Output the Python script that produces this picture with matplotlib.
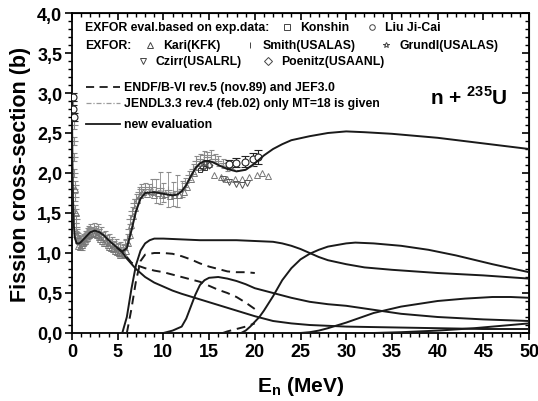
import numpy as np
import matplotlib
matplotlib.use("Agg")
import matplotlib.pyplot as plt
from matplotlib.ticker import MultipleLocator, FuncFormatter

plt.rcParams['font.family'] = ['Liberation Sans', 'DejaVu Sans']
plt.rcParams['font.weight'] = 'bold'
plt.rcParams['mathtext.fontset'] = 'custom'
plt.rcParams['mathtext.rm'] = 'Liberation Sans:bold'
plt.rcParams['mathtext.bf'] = 'Liberation Sans:bold'

# --- new evaluation: total fission cross-section
tot_E = [0.01, 0.05, 0.1, 0.2, 0.3, 0.5, 0.8, 1.0, 1.5, 2.0, 2.5, 3.0, 3.5, 4.0, 4.5, 5.0, 5.5,
         6.0, 6.5, 7.0, 7.5, 8.0, 9.0, 10.0, 11.0, 11.5, 12.0, 12.5, 13.0, 13.5, 14.0, 14.5,
         15.0, 15.5, 16.0, 17.0, 18.0, 19.0, 20.0, 21.0, 22.0, 23.0, 24.0, 26.0, 28.0, 30.0,
         32.0, 35.0, 38.0, 40.0, 45.0, 50.0]
tot_s = [2.6, 2.1, 1.7, 1.35, 1.2, 1.12, 1.12, 1.14, 1.2, 1.26, 1.28, 1.26, 1.22, 1.16, 1.11, 1.06, 1.02,
         1.06, 1.28, 1.52, 1.68, 1.75, 1.76, 1.74, 1.72, 1.73, 1.77, 1.85, 1.96, 2.06, 2.12, 2.15,
         2.15, 2.13, 2.10, 2.05, 2.02, 2.04, 2.12, 2.22, 2.30, 2.36, 2.41, 2.46, 2.50, 2.52,
         2.51, 2.49, 2.46, 2.44, 2.37, 2.30]

# --- new evaluation: partial (multi-chance) fission
ch1_E = [5.0, 5.5, 6.0, 7.0, 8.0, 9.0, 10.0, 11.0, 12.0, 14.0, 16.0, 18.0, 20.0, 22.0, 24.0,
         26.0, 28.0, 30.0, 35.0, 40.0, 45.0, 50.0]
ch1_s = [1.06, 1.01, 0.93, 0.80, 0.70, 0.63, 0.58, 0.53, 0.49, 0.42, 0.35, 0.28, 0.21, 0.15, 0.12,
         0.10, 0.09, 0.08, 0.07, 0.06, 0.05, 0.05]
ch2_E = [5.5, 6.0, 6.5, 7.0, 7.5, 8.0, 8.5, 9.0, 10, 12, 14, 16, 18, 20, 22, 23, 24, 25, 26, 27,
         28, 30, 32, 35, 40, 45, 50]
ch2_s = [0.0, 0.2, 0.55, 0.85, 1.03, 1.12, 1.16, 1.18, 1.18, 1.17, 1.16, 1.16, 1.16, 1.15, 1.14,
         1.12, 1.09, 1.05, 1.0, 0.95, 0.91, 0.86, 0.82, 0.79, 0.75, 0.72, 0.68]
ch3_E = [10, 11, 12, 12.5, 13, 13.5, 14, 14.5, 15, 16, 17, 18, 19, 20, 22, 24, 26, 28, 30, 33,
         36, 40, 45, 50]
ch3_s = [0.0, 0.03, 0.08, 0.18, 0.33, 0.48, 0.60, 0.66, 0.69, 0.70, 0.68, 0.65, 0.61, 0.56, 0.50,
         0.44, 0.39, 0.36, 0.34, 0.29, 0.24, 0.20, 0.17, 0.15]
ch4_E = [18.5, 19, 19.5, 20, 20.5, 21, 22, 23, 24, 25, 26, 27, 28, 30, 31, 33, 36, 39, 42, 46, 50]
ch4_s = [0.0, 0.03, 0.08, 0.14, 0.20, 0.28, 0.46, 0.66, 0.81, 0.92, 0.99, 1.04, 1.08, 1.12, 1.13,
         1.12, 1.09, 1.04, 0.97, 0.86, 0.76]
ch5_E = [25, 26, 27, 28, 30, 33, 36, 40, 43, 46, 48, 50]
ch5_s = [0.0, 0.01, 0.03, 0.06, 0.13, 0.25, 0.33, 0.40, 0.43, 0.45, 0.45, 0.44]
ch6_E = [33, 36, 40, 44, 47, 50]
ch6_s = [0.0, 0.01, 0.03, 0.06, 0.09, 0.12]

# --- ENDF/B-VI partial fission (dashed)
endf1_E = [6.0, 6.5, 7, 8, 9, 10, 11, 12, 13, 14, 15, 16, 17, 18, 19, 20]
endf1_s = [0.95, 0.88, 0.85, 0.81, 0.78, 0.76, 0.73, 0.70, 0.67, 0.64, 0.59, 0.54, 0.50, 0.45, 0.38, 0.30]
endf2_E = [6.0, 6.5, 7.0, 7.5, 8.0, 9, 10, 11, 12, 13, 14, 15, 16, 17, 18, 19, 20]
endf2_s = [0.0, 0.3, 0.65, 0.9, 0.98, 1.0, 1.0, 0.99, 0.96, 0.92, 0.87, 0.83, 0.80, 0.77, 0.76, 0.76, 0.75]
endf3_E = [16.5, 17, 18, 19, 20]
endf3_s = [0.0, 0.02, 0.05, 0.08, 0.12]

# --- JENDL-3.3 total (gray dash-dot)
jendl_E = [0.05, 0.1, 0.3, 0.5, 1, 1.5, 2, 2.5, 3, 4, 5, 5.5, 6, 6.5, 7, 7.5, 8, 9, 10, 11, 12,
           12.5, 13, 13.5, 14, 15, 16, 17, 18, 19, 20]
jendl_s = [2.2, 1.8, 1.25, 1.15, 1.16, 1.22, 1.28, 1.30, 1.28, 1.18, 1.08, 1.04, 1.08, 1.30, 1.55,
           1.70, 1.78, 1.79, 1.77, 1.75, 1.78, 1.86, 1.97, 2.07, 2.13, 2.16, 2.12, 2.07, 2.03, 2.04, 2.10]

# --- EXFOR experimental data
smith_E = [0.15, 0.18, 0.2, 0.22, 0.25, 0.28, 0.3, 0.35, 0.4, 0.45, 0.5, 0.6, 0.7, 0.8, 0.9, 1.0,
           1.1, 1.2, 1.3, 1.4, 1.5, 1.6, 1.7, 1.8, 1.9, 2.0, 2.2, 2.4, 2.6, 2.8, 3.0, 3.2, 3.4, 3.6,
           3.8, 4.0, 4.2, 4.4, 4.6, 4.8, 5.0, 5.2, 5.4, 5.6, 5.8, 6.0, 6.2, 6.4, 6.6, 6.8, 7.0, 7.3,
           7.6, 8.0, 8.4, 8.8, 9.2, 9.6, 10.0, 10.5, 11.0, 11.5, 12.0, 12.4, 12.8, 13.2, 13.6, 14.0,
           14.4, 14.8, 15.2, 15.6, 16.0, 16.5, 17.0]
smith_s = [2.9, 2.6, 2.4, 2.2, 2.0, 1.85, 1.7, 1.55, 1.42, 1.32, 1.25, 1.2, 1.17, 1.13, 1.12, 1.15,
           1.10, 1.18, 1.16, 1.22, 1.20, 1.25, 1.23, 1.28, 1.26, 1.30, 1.27, 1.31, 1.28, 1.30, 1.24,
           1.26, 1.20, 1.22, 1.16, 1.18, 1.12, 1.14, 1.09, 1.11, 1.06, 1.08, 1.02, 1.05, 1.10, 1.18,
           1.30, 1.42, 1.52, 1.62, 1.68, 1.76, 1.80, 1.82, 1.80, 1.83, 1.78, 1.81, 1.76, 1.79, 1.74,
           1.77, 1.80, 1.88, 1.97, 2.05, 2.15, 2.18, 2.22, 2.20, 2.23, 2.18, 2.15, 2.12, 2.08]
smith_err = [0.05, 0.05, 0.05, 0.05, 0.05, 0.05, 0.05, 0.05, 0.05, 0.05, 0.05, 0.06, 0.06, 0.06,
             0.06, 0.06, 0.06, 0.06, 0.06, 0.06, 0.06, 0.06, 0.06, 0.06, 0.06, 0.06, 0.06, 0.06,
             0.06, 0.06, 0.06, 0.06, 0.06, 0.06, 0.06, 0.06, 0.06, 0.06, 0.06, 0.06, 0.06, 0.06,
             0.06, 0.06, 0.06, 0.06, 0.06, 0.06, 0.06, 0.06, 0.06, 0.06, 0.06, 0.06, 0.06, 0.10,
             0.15, 0.20, 0.12, 0.22, 0.15, 0.20, 0.10, 0.06, 0.06, 0.06, 0.06, 0.06, 0.06, 0.06,
             0.06, 0.06, 0.06, 0.06, 0.06]
kari_E = [0.3, 0.4, 0.55, 0.7, 0.85, 1.05, 1.25, 1.45, 1.65, 1.85, 2.1, 2.3, 2.5, 2.7, 2.9, 3.1,
          3.3, 3.5, 3.7, 3.9, 4.1, 4.3, 4.5, 4.7, 4.9, 5.1, 5.3, 5.5, 5.7, 5.9, 6.1, 6.3, 6.5, 6.7,
          6.9, 7.15, 7.45, 7.8, 8.2, 8.6, 9.0, 9.4, 9.8, 10.2, 10.7, 11.2, 11.7, 12.2, 12.6, 13.0,
          13.4, 13.8, 14.2, 14.6, 15.0, 15.5, 16.3, 17.0, 17.8, 18.6, 19.4, 20.2, 20.8, 21.4]
kari_s = [1.80, 1.50, 1.22, 1.09, 1.08, 1.10, 1.13, 1.15, 1.19, 1.22, 1.24, 1.25, 1.24, 1.23, 1.20,
          1.18, 1.15, 1.13, 1.12, 1.10, 1.08, 1.06, 1.05, 1.03, 1.01, 1.00, 0.98, 0.97, 0.99, 1.03,
          1.12, 1.22, 1.35, 1.46, 1.56, 1.66, 1.72, 1.76, 1.74, 1.77, 1.73, 1.75, 1.72, 1.74, 1.71,
          1.73, 1.72, 1.76, 1.82, 1.92, 2.00, 2.08, 2.10, 2.13, 2.11, 1.97, 1.95, 1.93, 1.92, 1.93,
          1.95, 1.97, 2.00, 1.96]
czirr_E = [16.5, 17.2, 17.9, 18.6, 19.2]
czirr_s = [1.92, 1.89, 1.86, 1.85, 1.88]
konshin_E = [14.0, 14.6]
konshin_s = [2.04, 2.06]
liu_E = [0.1, 0.15, 0.2, 17.2, 17.9, 18.9, 19.8, 20.3]
liu_s = [2.95, 2.80, 2.70, 2.11, 2.13, 2.14, 2.17, 2.20]
liu_err = [0.05, 0.05, 0.05, 0.05, 0.06, 0.07, 0.08, 0.09]
poenitz_E = [14.3, 15.0]
poenitz_s = [2.08, 2.10]
grundl_E = [14.5]
grundl_s = [2.12]

fig = plt.figure(figsize=(5.38, 4.02), dpi=100)
ax = fig.add_axes([72 / 538, 1 - 334 / 402, 457 / 538, 320 / 402])

# experimental points
ax.errorbar(smith_E, smith_s, yerr=smith_err, fmt='+', color='#8a8a8a', ms=6, mew=0.8,
            elinewidth=0.6, capsize=1.8, zorder=2)
ax.plot(kari_E, kari_s, '^', mfc='none', mec='#777777', ms=4.5, mew=0.7, zorder=3)
ax.plot(czirr_E, czirr_s, 'v', mfc='none', mec='#555555', ms=4.5, mew=0.7, zorder=3)
ax.plot(konshin_E, konshin_s, 's', mfc='none', mec='#333333', ms=3.5, mew=0.7, zorder=3)
ax.plot(poenitz_E, poenitz_s, 'D', mfc='none', mec='#333333', ms=3.5, mew=0.7, zorder=3)
ax.plot(grundl_E, grundl_s, '*', mfc='none', mec='#555555', ms=5, mew=0.6, zorder=3)
ax.errorbar(liu_E, liu_s, yerr=liu_err, fmt='o', mfc='white', mec='#222222', ecolor='#222222',
            ms=5, mew=0.8, elinewidth=0.8, capsize=3, zorder=4)

# evaluations
ax.plot(jendl_E, jendl_s, color='#9a9a9a', lw=0.9, ls=(0, (4, 1.5, 1, 1.5)), zorder=4)
for xs, ys in [(endf1_E, endf1_s), (endf2_E, endf2_s), (endf3_E, endf3_s)]:
    ax.plot(xs, ys, color='#1a1a1a', lw=1.4, ls=(0, (4.5, 3)), zorder=5)
for xs, ys in [(tot_E, tot_s), (ch1_E, ch1_s), (ch2_E, ch2_s), (ch3_E, ch3_s),
               (ch4_E, ch4_s), (ch5_E, ch5_s), (ch6_E, ch6_s)]:
    ax.plot(xs, ys, color='#1a1a1a', lw=1.4, zorder=6)

ax.set_xlim(0, 50)
ax.set_ylim(0, 4.0)
ax.xaxis.set_major_locator(MultipleLocator(5))
ax.xaxis.set_minor_locator(MultipleLocator(1))
ax.yaxis.set_major_locator(MultipleLocator(0.5))
ax.yaxis.set_minor_locator(MultipleLocator(0.1))
ax.yaxis.set_major_formatter(FuncFormatter(lambda v, p: f"{v:.1f}".replace('.', ',')))
ax.tick_params(which='major', direction='out', length=5, width=1.2, labelsize=13, pad=2)
ax.tick_params(which='minor', direction='out', length=3, width=1.0)
for lab in ax.get_xticklabels() + ax.get_yticklabels():
    lab.set_fontweight('bold')
for sp in ax.spines.values():
    sp.set_linewidth(1.3)

# inward ticks on top and right
top = ax.secondary_xaxis('top')
top.xaxis.set_major_locator(MultipleLocator(5))
top.xaxis.set_minor_locator(MultipleLocator(1))
top.tick_params(which='major', direction='in', length=5, width=1.2, labeltop=False)
top.tick_params(which='minor', direction='in', length=3, width=1.0)
right = ax.secondary_yaxis('right')
right.yaxis.set_major_locator(MultipleLocator(0.5))
right.yaxis.set_minor_locator(MultipleLocator(0.1))
right.tick_params(which='major', direction='in', length=5, width=1.2, labelright=False)
right.tick_params(which='minor', direction='in', length=3, width=1.0)

ax.set_ylabel('Fission cross-section (b)', fontsize=15.5, fontweight='bold', labelpad=4)
ax.set_xlabel(r'E$_\mathregular{n}$ (MeV)', fontsize=15, fontweight='bold', labelpad=10)


# legend drawn by hand (positions in pixels of the original picture)
def P(px, py):
    return (px - 72) / 457, (334 - py) / 320


fs = 8.8
ax.text(*P(85, 28), 'EXFOR eval.based on exp.data:', transform=ax.transAxes, fontsize=fs,
        fontweight='bold', va='center')
ax.text(*P(85, 46), 'EXFOR:', transform=ax.transAxes, fontsize=fs, fontweight='bold', va='center')
entries = [(287, 28, 's', 'Konshin'), (372, 28, 'o', 'Liu Ji-Cai'),
           (150, 46, '^', 'Kari(KFK)'), (250, 46, '|', 'Smith(USALAS)'),
           (386, 46, '*', 'Grundl(USALAS)'), (143, 62, 'v', 'Czirr(USALRL)'),
           (268, 62, 'D', 'Poenitz(USAANL)')]
for px, py, m, name in entries:
    ax.plot(*P(px, py), marker=m, mfc='none', mec='#444444', ms=4, mew=0.7,
            transform=ax.transAxes, clip_on=False)
    ax.text(*P(px + 13, py), name, transform=ax.transAxes, fontsize=fs, fontweight='bold',
            va='center')

lines = [(88, 'ENDF/B-VI rev.5 (nov.89) and JEF3.0', dict(color='#1a1a1a', lw=1.3, ls=(0, (4.5, 3)))),
         (104, 'JENDL3.3 rev.4 (feb.02) only MT=18 is given', dict(color='#9a9a9a', lw=0.9, ls=(0, (4, 1.5, 1, 1.5)))),
         (125, 'new evaluation', dict(color='#1a1a1a', lw=1.3))]
for py, name, st in lines:
    x0, y0 = P(86, py)
    x1, _ = P(120, py)
    ax.plot([x0, x1], [y0, y0], transform=ax.transAxes, clip_on=False, **st)
    ax.text(*P(124, py), name, transform=ax.transAxes, fontsize=fs, fontweight='bold',
            va='center')

ax.text(*P(430, 97), r'n + $^{\mathbf{235}}$U', transform=ax.transAxes, fontsize=15,
        fontweight='bold', va='center')

fig.savefig('out.png', dpi=100)
